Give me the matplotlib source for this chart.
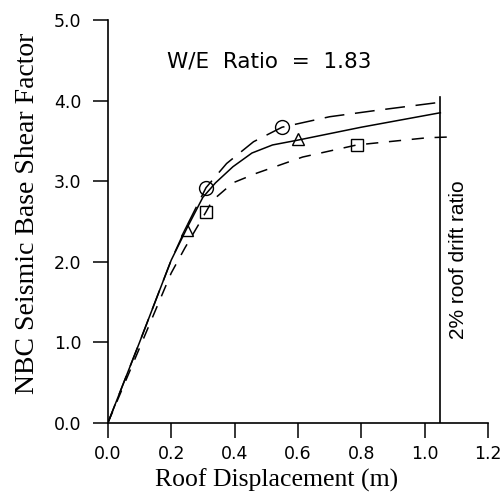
import matplotlib
matplotlib.use('Agg')
import matplotlib.pyplot as plt

# solid curve (triangles)
solid_x = [0.0, 0.1, 0.2, 0.25, 0.3, 0.34, 0.395, 0.455, 0.52, 0.6, 0.8, 1.05]
solid_y = [0.0, 1.0, 2.02, 2.42, 2.8, 2.98, 3.18, 3.35, 3.45, 3.51, 3.67, 3.85]
tri_x = [0.25, 0.6]
tri_y = [2.4, 3.53]

# long dashed curve (circles)
upper_x = [0.0, 0.1, 0.2, 0.25, 0.31, 0.375, 0.46, 0.55, 0.7, 0.85, 1.05]
upper_y = [0.0, 1.0, 2.02, 2.45, 2.92, 3.22, 3.49, 3.67, 3.8, 3.88, 3.98]
circ_x = [0.31, 0.55]
circ_y = [2.92, 3.67]

# short dashed curve (squares)
lower_x = [0.0, 0.1, 0.2, 0.243, 0.31, 0.33, 0.395, 0.47, 0.615, 0.786, 1.01, 1.09]
lower_y = [0.0, 0.93, 1.86, 2.17, 2.62, 2.76, 2.98, 3.1, 3.3, 3.45, 3.54, 3.55]
sq_x = [0.31, 0.786]
sq_y = [2.62, 3.45]

drift_x = 1.05
drift_top = 4.05

xticks = [0.0, 0.2, 0.4, 0.6, 0.8, 1.0, 1.2]
yticks = [0.0, 1.0, 2.0, 3.0, 4.0, 5.0]

fig = plt.figure(figsize=(5.04, 4.95), dpi=100)
ax = fig.add_axes([0.214, 0.1455, 0.754, 0.814])

ax.plot(solid_x, solid_y, color='black', lw=1.1)
ax.plot(upper_x, upper_y, color='black', lw=1.1, dashes=(13, 7))
ax.plot(lower_x, lower_y, color='black', lw=1.1, dashes=(8, 7))
ax.plot(tri_x, tri_y, '^', color='black', mfc='none', ms=8, mew=1.0)
ax.plot(circ_x, circ_y, 'o', color='black', mfc='none', ms=10, mew=1.0)
ax.plot(sq_x, sq_y, 's', color='black', mfc='none', ms=8, mew=1.0)

ax.plot([drift_x, drift_x], [0, drift_top], color='black', lw=1.2)
ax.text(drift_x + 0.058, 2.03, '2% roof drift ratio', rotation=90,
        ha='center', va='center', fontsize=15, family='Liberation Sans')
ax.text(0.51, 4.48, 'W/E  Ratio  =  1.83', ha='center', va='center',
        fontsize=15.5, family='DejaVu Sans')

ax.set_xlim(0, 1.2)
ax.set_ylim(0, 5.0)
ax.set_xticks(xticks)
ax.set_yticks(yticks)
ax.set_xticklabels(['%.1f' % v for v in xticks])
ax.set_yticklabels(['%.1f' % v for v in yticks])
ax.spines['top'].set_visible(False)
ax.spines['right'].set_visible(False)
ax.spines['left'].set_linewidth(1.2)
ax.spines['bottom'].set_linewidth(1.2)
ax.tick_params(axis='both', direction='out', length=11, width=1.1, labelsize=12.5)
ax.tick_params(axis='y', pad=8)
ax.tick_params(axis='x', pad=5)

ax.set_xlabel('Roof Displacement (m)', family='Liberation Serif', fontsize=18.5)
ax.set_ylabel('NBC Seismic Base Shear Factor', family='Liberation Serif', fontsize=20)
ax.xaxis.set_label_coords(0.445, -0.112)
ax.yaxis.set_label_coords(-0.178, 0.52)

fig.savefig('out.png', dpi=100)
